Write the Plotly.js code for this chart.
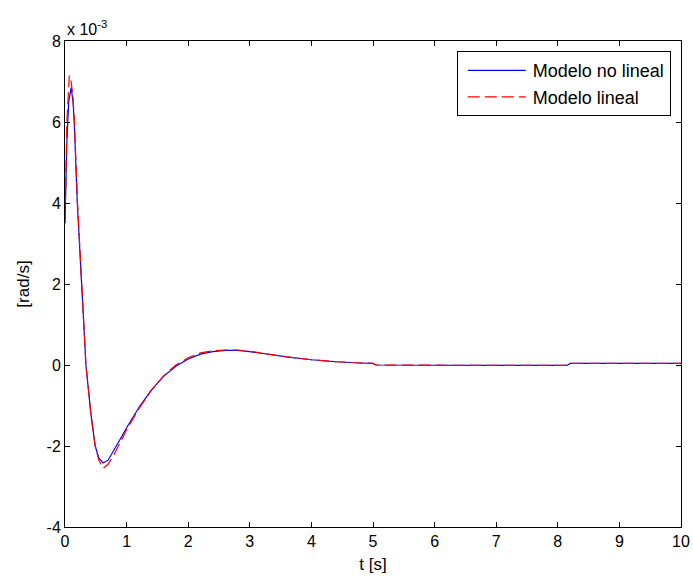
<!DOCTYPE html>
<html>
<head>
<meta charset="utf-8">
<script src="https://cdn.plot.ly/plotly-3.0.1.min.js"></script>
<style>html,body{margin:0;padding:0;background:#fff}#chart{width:693px;height:583px}</style>
</head>
<body>
<div id="chart"></div>
<script>
// values in units of 1e-3 rad/s
var tNoLineal = [0, 0.03, 0.06, 0.1, 0.13, 0.15, 0.2, 0.27, 0.34, 0.42, 0.49, 0.55, 0.62, 0.7, 0.8, 0.9, 1.0, 1.2, 1.4, 1.6, 1.8, 2.0, 2.2, 2.4, 2.6, 2.8, 3.0, 3.3, 3.6, 4.0, 4.4, 4.8, 5.0, 5.05, 6.0, 7.0, 8.15, 8.2, 9.0, 10.0];
var yNoLineal = [3.5, 5.5, 6.5, 6.85, 6.5, 6.0, 4.0, 2.0, 0.0, -1.2, -2.0, -2.3, -2.42, -2.35, -2.1, -1.82, -1.55, -1.05, -0.62, -0.28, -0.03, 0.15, 0.27, 0.33, 0.36, 0.36, 0.33, 0.26, 0.2, 0.13, 0.08, 0.05, 0.04, 0.0, -0.01, -0.01, -0.01, 0.04, 0.04, 0.04];
var tLineal = [0, 0.03, 0.07, 0.1, 0.13, 0.15, 0.2, 0.27, 0.34, 0.42, 0.49, 0.55, 0.62, 0.7, 0.8, 0.9, 1.0, 1.2, 1.4, 1.6, 1.8, 2.0, 2.2, 2.4, 2.6, 2.8, 3.0, 3.3, 3.6, 4.0, 4.4, 4.8, 5.0, 5.05, 6.0, 7.0, 8.15, 8.2, 9.0, 10.0];
var yLineal = [3.5, 6.0, 7.15, 7.0, 6.6, 6.1, 4.1, 2.0, 0.0, -1.2, -2.0, -2.35, -2.55, -2.45, -2.2, -1.9, -1.6, -1.08, -0.63, -0.27, 0.0, 0.18, 0.3, 0.35, 0.37, 0.37, 0.34, 0.27, 0.2, 0.13, 0.08, 0.05, 0.04, 0.0, -0.01, -0.01, -0.01, 0.04, 0.04, 0.04];
var scale = 1e-3;
var yTickVals = [-4, -2, 0, 2, 4, 6, 8];
var xTickVals = [0, 1, 2, 3, 4, 5, 6, 7, 8, 9, 10];

var font = 'Liberation Sans, Arial, Helvetica, sans-serif';
var traces = [
  {x: tNoLineal, y: yNoLineal.map(function(v){return v*scale;}), mode: 'lines', name: 'Modelo no lineal',
   line: {color: '#0000ff', width: 1.2}},
  {x: tLineal, y: yLineal.map(function(v){return v*scale;}), mode: 'lines', name: 'Modelo lineal',
   line: {color: '#ff0000', width: 1.2, dash: '12px,5px'}}
];
var layout = {
  width: 693, height: 583,
  margin: {l: 65, r: 12, t: 41, b: 56},
  paper_bgcolor: '#ffffff', plot_bgcolor: '#ffffff',
  font: {family: font, size: 16, color: '#000'},
  showlegend: true,
  legend: {x: 0.636, y: 0.979, xanchor: 'left', yanchor: 'top', bgcolor: '#fff',
    bordercolor: '#000', borderwidth: 1, font: {family: font, size: 18, color: '#000'},
    tracegroupgap: 0, itemwidth: 65},
  xaxis: {range: [0, 10], tickvals: xTickVals, ticktext: xTickVals.map(String),
    ticks: 'inside', ticklen: 5, tickcolor: '#000', showline: true, linecolor: '#000', linewidth: 1,
    mirror: 'ticks', showgrid: false, zeroline: false, tickfont: {size: 16},
    title: {text: 't [s]', font: {family: font, size: 17}, standoff: 8}},
  yaxis: {range: [-4e-3, 8e-3], tickvals: yTickVals.map(function(v){return v*scale;}), ticktext: yTickVals.map(String),
    ticks: 'inside', ticklen: 5, tickcolor: '#000', showline: true, linecolor: '#000', linewidth: 1,
    mirror: 'ticks', showgrid: false, zeroline: false, tickfont: {size: 16},
    title: {text: '[rad/s]', font: {family: font, size: 17}, standoff: 12}},
  annotations: [{xref: 'paper', yref: 'paper', x: 0, y: 1, xanchor: 'left', yanchor: 'bottom',
    text: 'x 10<sup>-3</sup>', showarrow: false, font: {family: font, size: 16}, yshift: 1}]
};
Plotly.newPlot('chart', traces, layout, {displayModeBar: false, staticPlot: true}).then(function(gd){
  var paths = gd.querySelectorAll('.legend .legendlines path');
  paths.forEach(function(p){ p.setAttribute('d', 'M10,0h58'); });
});
</script>
</body>
</html>
